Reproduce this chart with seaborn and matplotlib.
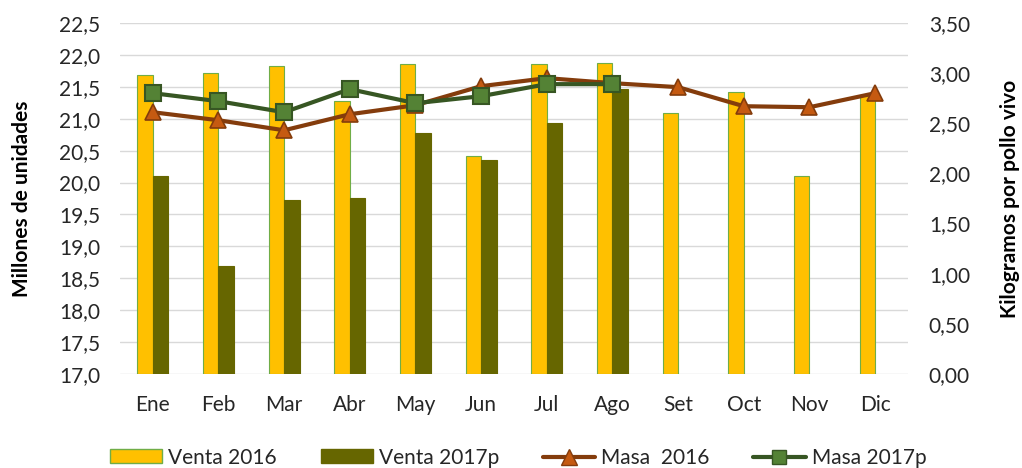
import numpy as np
import pandas as pd
import matplotlib
matplotlib.use("Agg")
import matplotlib.pyplot as plt
from matplotlib.patches import Patch
from matplotlib.lines import Line2D
import seaborn as sns

months = ["Ene", "Feb", "Mar", "Abr", "May", "Jun", "Jul", "Ago", "Set", "Oct", "Nov", "Dic"]
venta_2016 = [21.69, 21.72, 21.82, 21.27, 21.86, 20.41, 21.85, 21.88, 21.09, 21.42, 20.11, 21.37]
venta_2017p = [20.11, 18.69, 19.73, 19.75, 20.78, 20.36, 20.94, 21.46, np.nan, np.nan, np.nan, np.nan]
masa_2016 = [2.61, 2.53, 2.43, 2.59, 2.68, 2.87, 2.95, 2.90, 2.86, 2.67, 2.66, 2.80]
masa_2017p = [2.80, 2.72, 2.61, 2.84, 2.70, 2.77, 2.89, 2.89, np.nan, np.nan, np.nan, np.nan]

left_ticks = [17.0, 17.5, 18.0, 18.5, 19.0, 19.5, 20.0, 20.5, 21.0, 21.5, 22.0, 22.5]
right_ticks = [0.0, 0.5, 1.0, 1.5, 2.0, 2.5, 3.0, 3.5]

C_V16 = "#FFC000"
C_V16_EDGE = "#70AD47"
C_V17 = "#666600"
C_M16_LINE = "#843C0C"
C_M16_FILL = "#C55A11"
C_M17_LINE = "#375623"
C_M17_FILL = "#548235"
TXT = "#262626"
FS = 15

sns.set_theme(style="white")
plt.rcParams["font.family"] = ["Lato", "DejaVu Sans"]

df = pd.DataFrame({
    "mes": months * 2,
    "venta": venta_2016 + venta_2017p,
    "serie": ["Venta 2016"] * 12 + ["Venta 2017p"] * 12,
})

fig = plt.figure(figsize=(10.22, 4.68), dpi=100)
ax = fig.add_axes([0.1174, 0.2009, 0.7710, 0.7500])

sns.barplot(data=df, x="mes", y="venta", hue="serie", order=months,
            hue_order=["Venta 2016", "Venta 2017p"],
            palette=[C_V16, C_V17], width=0.47, dodge=True, ax=ax,
            legend=False, errorbar=None, saturation=1)
# bars start at axis bottom 17.0
for p in ax.patches:
    h = p.get_height()
    if np.isnan(h):
        continue
    p.set_y(17.0)
    p.set_height(h - 17.0)
    if p.get_facecolor()[:3] == matplotlib.colors.to_rgb(C_V16):
        p.set_edgecolor(C_V16_EDGE)
    else:
        p.set_edgecolor(C_V17)
    p.set_linewidth(0.8)

ax.set_ylim(17.0, 22.5)
ax.set_xlim(-0.5, 11.5)
ax.set_yticks(left_ticks)
ax.set_yticklabels([f"{v:.1f}".replace(".", ",") for v in left_ticks], fontsize=FS, color=TXT)
ax.set_xticks(range(12))
ax.set_xticklabels(months, fontsize=FS, color=TXT)
ax.tick_params(axis="y", length=0, pad=14)
ax.tick_params(axis="x", length=0, pad=15)
ax.yaxis.grid(True, color="#D9D9D9", linewidth=1)
ax.set_axisbelow(True)
for s in ax.spines.values():
    s.set_visible(False)
ax.set_xlabel("")
ax.set_ylabel("Millones de unidades", fontsize=FS, fontweight="bold", color="black", labelpad=20)

ax2 = ax.twinx()
pos = np.arange(12)
sns.lineplot(x=pos, y=masa_2016, ax=ax2, color=C_M16_LINE, linewidth=3,
             marker="^", markersize=12, markerfacecolor=C_M16_FILL,
             markeredgecolor=C_M16_LINE, markeredgewidth=1.2)
sns.lineplot(x=pos, y=masa_2017p, ax=ax2, color=C_M17_LINE, linewidth=3,
             marker="s", markersize=11, markerfacecolor=C_M17_FILL,
             markeredgecolor=C_M17_LINE, markeredgewidth=1.5)
ax2.set_ylim(0, 3.5)
ax2.set_yticks(right_ticks)
ax2.set_yticklabels([f"{v:.2f}".replace(".", ",") for v in right_ticks], fontsize=FS, color=TXT)
ax2.tick_params(axis="y", length=0, pad=15)
ax2.grid(False)
for s in ax2.spines.values():
    s.set_visible(False)
ax2.set_ylabel("Kilogramos por pollo vivo", fontsize=FS, fontweight="bold", color="black", labelpad=22)
ax2.set_xlim(-0.5, 11.5)

handles = [
    Patch(facecolor=C_V16, edgecolor=C_V16_EDGE, linewidth=1),
    Patch(facecolor=C_V17, edgecolor=C_V17),
    Line2D([0], [0], color=C_M16_LINE, lw=3, marker="^", markersize=11,
           markerfacecolor=C_M16_FILL, markeredgecolor=C_M16_LINE),
    Line2D([0], [0], color=C_M17_LINE, lw=3, marker="s", markersize=10,
           markerfacecolor=C_M17_FILL, markeredgecolor=C_M17_LINE),
]
labels = ["Venta 2016", "Venta 2017p", "Masa  2016", "Masa 2017p"]
fig.legend(handles, labels, loc="center", bbox_to_anchor=(0.507, 0.022), ncol=4,
           frameon=False, fontsize=FS, handlelength=2.5, handleheight=0.65,
           columnspacing=2.1, handletextpad=0.3, borderpad=0)

fig.savefig("out.png", dpi=100)
